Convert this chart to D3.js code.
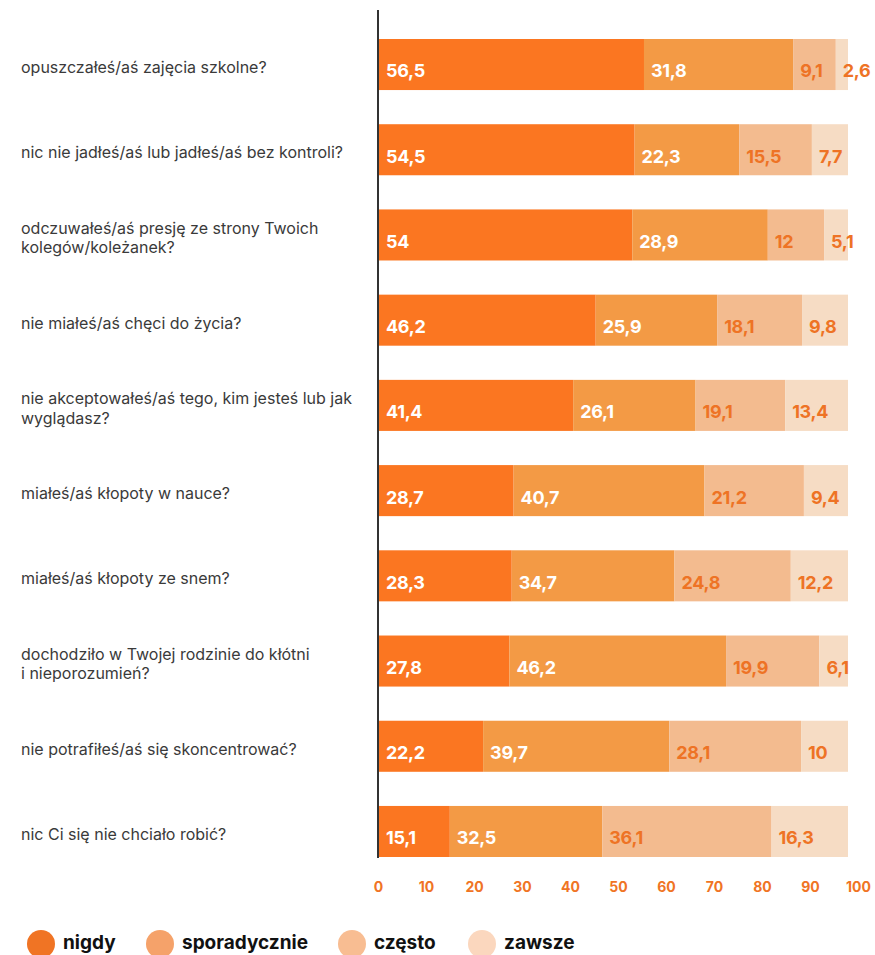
<!DOCTYPE html>
<html><head><meta charset="utf-8">
<script src="https://cdn.jsdelivr.net/npm/d3@7"></script>
<style>
body{margin:0;background:#fff;}
svg{display:block;}
</style></head>
<body>
<svg id="chart" width="875" height="955"></svg>
<script>
const categories = [
  "opuszczałeś/aś zajęcia szkolne?",
  "nic nie jadłeś/aś lub jadłeś/aś bez kontroli?",
  "odczuwałeś/aś presję ze strony Twoich kolegów/koleżanek?",
  "nie miałeś/aś chęci do życia?",
  "nie akceptowałeś/aś tego, kim jesteś lub jak wyglądasz?",
  "miałeś/aś kłopoty w nauce?",
  "miałeś/aś kłopoty ze snem?",
  "dochodziło w Twojej rodzinie do kłótni i nieporozumień?",
  "nie potrafiłeś/aś się skoncentrować?",
  "nic Ci się nie chciało robić?"
];
const seriesNames = ["nigdy", "sporadycznie", "często", "zawsze"];
const nigdy        = [56.5, 54.5, 54, 46.2, 41.4, 28.7, 28.3, 27.8, 22.2, 15.1];
const sporadycznie = [31.8, 22.3, 28.9, 25.9, 26.1, 40.7, 34.7, 46.2, 39.7, 32.5];
const czesto       = [9.1, 15.5, 12, 18.1, 19.1, 21.2, 24.8, 19.9, 28.1, 36.1];
const zawsze       = [2.6, 7.7, 5.1, 9.8, 13.4, 9.4, 12.2, 6.1, 10, 16.3];
const tickValues = [0, 10, 20, 30, 40, 50, 60, 70, 80, 90, 100];

const barColors    = ["#fb7621", "#f39a45", "#f3bb8f", "#f6dcc4"];
const legendColors = ["#f07424", "#f5a26a", "#f8bd92", "#fbd7be"];
const labelColors  = ["#ffffff", "#ffffff", "#ee7325", "#ee7325"];

const table = categories.map((c, i) => ({
  cat: c, nigdy: nigdy[i], sporadycznie: sporadycznie[i], "często": czesto[i], zawsze: zawsze[i]
}));

const svg = d3.select("#chart");
const x = d3.scaleLinear().domain([0, 100]).range([379, 848]);
const xTicks = d3.scaleLinear().domain([0, 100]).range([378, 858]);
const y = d3.scaleBand().domain(categories).range([39, 857]).paddingInner(0.401).paddingOuter(0);

const stack = d3.stack().keys(seriesNames);
const series = stack(table);

const g = svg.append("g");
series.forEach((s, si) => {
  const grp = g.append("g");
  grp.selectAll("rect").data(s).enter().append("rect")
    .attr("x", d => x(d[0]))
    .attr("y", d => y(d.data.cat))
    .attr("width", d => x(d[1]) - x(d[0]))
    .attr("height", y.bandwidth())
    .attr("fill", barColors[si]);
});
series.forEach((s, si) => {
  g.append("g").selectAll("text").data(s).enter().append("text")
    .attr("x", d => x(d[0]) + 7)
    .attr("y", d => y(d.data.cat) + y.bandwidth() / 2 + 8)
    .attr("dominant-baseline", "middle")
    .attr("fill", labelColors[si])
    .style("font-family", "Inter, 'Noto Sans', sans-serif")
    .style("font-weight", "700")
    .style("font-size", "18px")
    .style("letter-spacing", "-0.3px")
    .text(d => String(+(d[1] - d[0]).toFixed(1)).replace(".", ","));
});

// vertical axis line
svg.append("line")
  .attr("x1", 378).attr("x2", 378)
  .attr("y1", 10).attr("y2", 858)
  .attr("stroke", "#333").attr("stroke-width", 2);

// category labels with wrapping (single-letter words stick to the next word)
const maxW = 345;
const lab = svg.append("g");
categories.forEach(c => {
  const t = lab.append("text")
    .attr("x", 21)
    .attr("fill", "#3a3a3a")
    .style("font-family", "Inter, 'Noto Sans', sans-serif")
    .style("font-size", "16px");
  const raw = c.split(" ");
  const words = [];
  for (let k = 0; k < raw.length; k++) {
    if (raw[k].length === 1 && k < raw.length - 1) { words.push(raw[k] + " " + raw[k + 1]); k++; }
    else words.push(raw[k]);
  }
  let lines = [], line = [];
  const tmp = t.append("tspan");
  words.forEach(w => {
    line.push(w);
    tmp.text(line.join(" "));
    if (tmp.node().getComputedTextLength() > maxW && line.length > 1) {
      line.pop();
      lines.push(line.join(" "));
      line = [w];
    }
  });
  lines.push(line.join(" "));
  tmp.remove();
  const cy = y(c) + y.bandwidth() / 2 + 4;
  const lh = 19.5;
  lines.forEach((ln, li) => {
    t.append("tspan")
      .attr("x", 21)
      .attr("y", cy + (li - (lines.length - 1) / 2) * lh)
      .attr("dominant-baseline", "middle")
      .text(ln);
  });
});

// tick labels
const axis = d3.axisBottom(xTicks).tickValues(tickValues).tickSize(0).tickPadding(0).tickFormat(d3.format("d"));
const ax = svg.append("g").attr("transform", "translate(0,882)").call(axis);
ax.select(".domain").remove();
ax.selectAll("text")
  .attr("fill", "#f07424")
  .style("font-family", "Inter, 'Noto Sans', sans-serif")
  .style("font-weight", "700")
  .style("font-size", "14px");

// legend
const legendX = [41, 160, 352, 482];
const lg = svg.append("g");
seriesNames.forEach((n, i) => {
  lg.append("circle").attr("cx", legendX[i]).attr("cy", 944).attr("r", 14).attr("fill", legendColors[i]);
  lg.append("text")
    .attr("x", legendX[i] + 22).attr("y", 944)
    .attr("dominant-baseline", "middle")
    .attr("fill", "#111")
    .style("font-family", "Inter, 'Noto Sans', sans-serif")
    .style("font-weight", "700")
    .style("font-size", "19px")
    .text(n);
});
</script>
</body></html>
